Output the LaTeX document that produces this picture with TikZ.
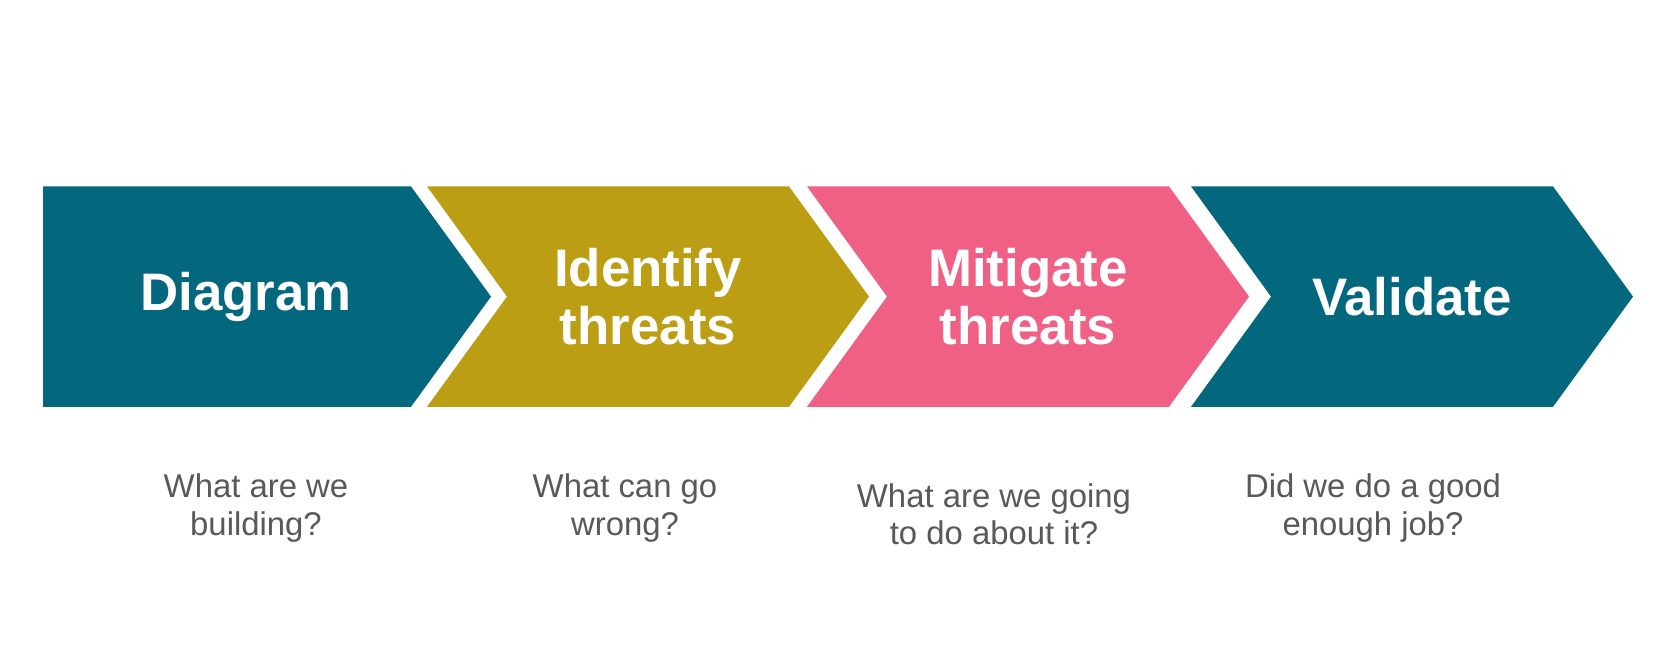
\documentclass[tikz,border=0pt]{standalone}
\usepackage{fontspec}
\setmainfont{Liberation Sans}
\definecolor{cteal}{HTML}{03677D}
\definecolor{cgold}{HTML}{BB9E14}
\definecolor{cpink}{HTML}{EF6084}
\definecolor{cgray}{HTML}{595959}
\begin{document}
\begin{tikzpicture}[x=1bp,y=-1bp,
  title/.style={text=white,align=center,inner sep=0pt,font=\fontsize{53}{58}\selectfont\bfseries},
  question/.style={text=cgray,align=center,inner sep=0pt,font=\fontsize{33}{37.5}\selectfont}]
\useasboundingbox[fill=white] (0,0) rectangle (1661,652);
% chevrons
\fill[cteal] (43,186.4) -- (411,186.4) -- (491,296.6) -- (411,406.8) -- (43,406.8) -- cycle;
\fill[cgold] (427,186.4) -- (789,186.4) -- (869,296.6) -- (789,406.8) -- (427,406.8) -- (507,296.6) -- cycle;
\fill[cpink] (807,186.4) -- (1169,186.4) -- (1249,296.6) -- (1169,406.8) -- (807,406.8) -- (887,296.6) -- cycle;
\fill[cteal] (1191,186.4) -- (1553,186.4) -- (1633,296.6) -- (1553,406.8) -- (1191,406.8) -- (1271,296.6) -- cycle;
% titles
\node[title] (t1) at (246,297) {Diagram};
\node[title] (t2) at (648,297) {Identify\\threats};
\node[title] (t3) at (1028,297) {Mitigate\\threats};
\node[title] (t4) at (1412,297) {Validate};
% questions
\node[question] (q1) at (256,508) {What are we\\building?};
\node[question] (q2) at (625,508) {What can go\\wrong?};
\node[question] (q3) at (994,514) {What are we going\\to do about it?};
\node[question] (q4) at (1373,508) {Did we do a good\\enough job?};
\end{tikzpicture}
\end{document}
